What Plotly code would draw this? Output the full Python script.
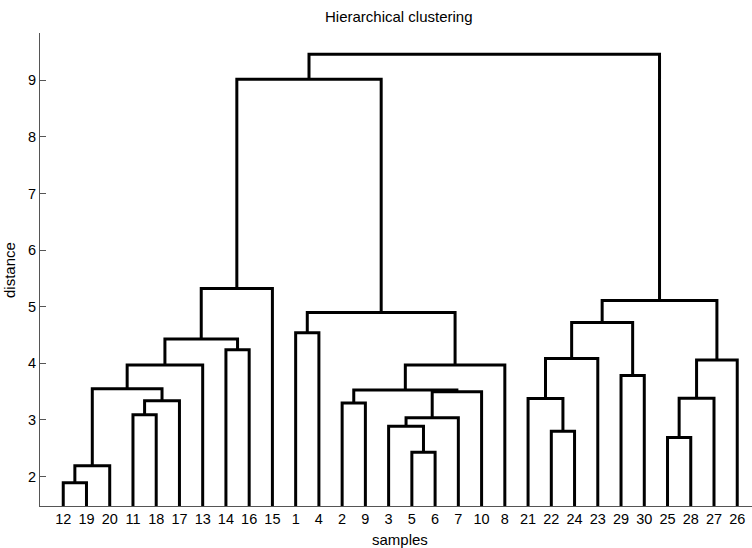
import plotly.graph_objects as go

# ---- data ----
leaf_order = [12, 19, 20, 11, 18, 17, 13, 14, 16, 15, 1, 4, 2, 9, 3, 5, 6, 7, 10, 8,
              21, 22, 24, 23, 29, 30, 25, 28, 27, 26]
# merges: cluster ids 31.. (leaves 1..30), scipy/MATLAB style
merge_left = [12, 31, 11, 33, 32, 35, 14, 36, 38, 1, 5, 3, 42, 2, 43, 44, 46, 40, 39,
              22, 21, 51, 29, 52, 25, 55, 56, 54, 49]
merge_right = [19, 20, 18, 17, 34, 13, 16, 37, 15, 4, 6, 41, 7, 9, 10, 45, 8, 47, 48,
               24, 50, 23, 30, 53, 28, 27, 26, 57, 58]
merge_height = [1.89, 2.19, 3.09, 3.34, 3.55, 3.97, 4.24, 4.43, 5.32, 4.54, 2.43, 2.89,
                3.04, 3.30, 3.50, 3.53, 3.97, 4.90, 9.02, 2.80, 3.38, 4.085, 3.785,
                4.72, 2.69, 3.385, 4.06, 5.11, 9.46]
y_ticks = [2, 3, 4, 5, 6, 7, 8, 9]

# ---- build dendrogram geometry ----
n = len(leaf_order)
xpos = {leaf: i + 1 for i, leaf in enumerate(leaf_order)}
hpos = {leaf: 0.0 for leaf in leaf_order}
xs, ys = [], []
for k, (a, b, h) in enumerate(zip(merge_left, merge_right, merge_height)):
    cid = n + 1 + k
    xa, xb = xpos[a], xpos[b]
    xs += [xa, xa, xb, xb, None]
    ys += [hpos[a], h, h, hpos[b], None]
    xpos[cid] = (xa + xb) / 2
    hpos[cid] = h

W, H = 752, 548
L, R, T, B = 40, 0, 33, 42
pw, ph = W - L - R, H - T - B

fig = go.Figure()
fig.add_trace(go.Scatter(x=xs, y=ys, mode="lines",
                         line=dict(color="black", width=3),
                         hoverinfo="skip", showlegend=False))

font = "Liberation Sans, Arial, sans-serif"
fig.update_layout(
    width=W, height=H,
    margin=dict(l=L, r=R, t=T, b=B, pad=0),
    paper_bgcolor="white", plot_bgcolor="white",
    font=dict(family=font, color="black", size=14),
    xaxis=dict(range=[0, (W - L) / ((737 - 63) / 29)], tickvals=list(range(1, n + 1)),
               ticktext=[str(v) for v in leaf_order], ticks="", showline=True,
               linecolor="#555", linewidth=1, showgrid=False, zeroline=False,
               tickfont=dict(size=14.5), fixedrange=True),
    yaxis=dict(range=[1.48, 9.835], tickvals=y_ticks, ticks="inside", ticklen=6,
               tickcolor="#555", showline=True, linecolor="#555", linewidth=1,
               showgrid=False, zeroline=False, tickfont=dict(size=14.5), fixedrange=True),
    annotations=[
        dict(text="Hierarchical clustering", xref="paper", yref="paper",
             x=(399 - L) / pw, y=(H - B - 16) / ph, xanchor="center", yanchor="middle",
             showarrow=False, font=dict(size=15)),
        dict(text="samples", xref="paper", yref="paper",
             x=(400 - L) / pw, y=(H - B - 539) / ph, xanchor="center", yanchor="middle",
             showarrow=False, font=dict(size=15)),
        dict(text="distance", xref="paper", yref="paper", textangle=-90,
             x=(9 - L) / pw, y=(H - B - 270) / ph, xanchor="center", yanchor="middle",
             showarrow=False, font=dict(size=15)),
    ],
)

fig.write_html("out.html")
